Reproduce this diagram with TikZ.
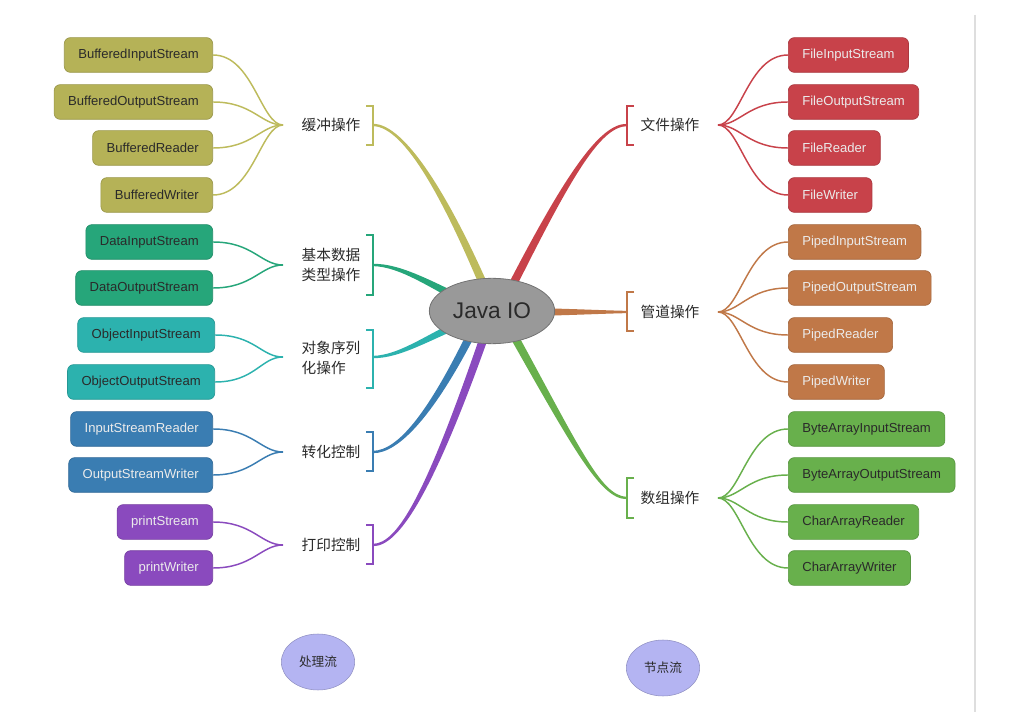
\documentclass[tikz,border=0pt]{standalone}
\usepackage{fontspec}
\setmainfont{Liberation Sans}
\newfontfamily\cjk{Noto Sans CJK SC}
\usetikzlibrary{calc,shapes.geometric}
\pgfdeclarelayer{background}
\pgfsetlayers{background,main}
\definecolor{cOl}{HTML}{B5B257}\definecolor{cOlL}{HTML}{BDBB5C}
\definecolor{cDa}{HTML}{26A67A}
\definecolor{cOb}{HTML}{2CB2AE}
\definecolor{cBl}{HTML}{3A7DB2}
\definecolor{cPu}{HTML}{8A4ABE}
\definecolor{cRe}{HTML}{C8424A}
\definecolor{cOr}{HTML}{C07848}
\definecolor{cGr}{HTML}{68B04C}
\definecolor{cLav}{HTML}{B4B4F2}
\definecolor{cDark}{HTML}{2A2A2A}
\newcommand{\branch}[5]{%
 \fill[#1] ($(#2)!3.2pt!90:(#3)$) .. controls ($(#3)!2.5pt!-90:(#2)$) and ($(#4)!1.3pt!90:(#5)$) .. ($(#5)!0.85pt!-90:(#4)$) -- ($(#5)!0.85pt!90:(#4)$) .. controls ($(#4)!1.3pt!-90:(#5)$) and ($(#3)!2.5pt!90:(#2)$) .. ($(#2)!3.2pt!-90:(#3)$) -- cycle;}
\tikzset{
 x=0.75pt, y=-0.75pt,
 box/.style={rounded corners=4.5pt, minimum height=26pt, inner xsep=10.5pt, inner ysep=0pt, font=\fontsize{9.8}{11}\selectfont, line width=0.5pt},
 lbox/.style={box, anchor=east},
 rbox/.style={box, anchor=west},
 olbox/.style={fill=cOl, draw=cOl!85!black, text=cDark},
 dabox/.style={fill=cDa, draw=cDa!85!black, text=cDark},
 obbox/.style={fill=cOb, draw=cOb!85!black, text=cDark},
 blbox/.style={fill=cBl, draw=cBl!85!black, text=white!92!black},
 pubox/.style={fill=cPu, draw=cPu!85!black, text=white!92!black},
 rebox/.style={fill=cRe, draw=cRe!85!black, text=white!92!black},
 orbox/.style={fill=cOr, draw=cOr!85!black, text=white!92!black},
 grbox/.style={fill=cGr, draw=cGr!85!black, text=cDark},
 cat/.style={font=\cjk\fontsize{11}{15}\selectfont, text=cDark, align=left, inner sep=0pt},
 twig/.style={line width=1.1pt},
 brk/.style={line width=1.1pt},
 flow/.style={ellipse, fill=cLav, draw=cLav!80!black, line width=0.4pt, minimum width=55pt, minimum height=42pt, inner sep=0pt, font=\cjk\fontsize{9.5}{11}\selectfont, text=cDark}
}
\begin{document}
\begin{tikzpicture}
\useasboundingbox (0,0) rectangle (1015,727);
\draw[black!13, line width=0.8pt] (975,15) -- (975,712);
% center
\node[ellipse, fill=black!40, draw=black!55, line width=0.6pt, minimum width=94pt, minimum height=49pt, inner sep=0pt, font=\fontsize{17}{19}\selectfont, text=cDark] (java) at (492,311) {Java IO};
% branch coordinates
\coordinate (a1) at (490,300); \coordinate (c1a) at (448,200); \coordinate (c1b) at (405,125); \coordinate (k1) at (373,125);
\coordinate (a2) at (472,305); \coordinate (c2a) at (430,284); \coordinate (c2b) at (400,265); \coordinate (k2) at (373,265);
\coordinate (a3) at (472,318); \coordinate (c3a) at (430,336); \coordinate (c3b) at (400,357); \coordinate (k3) at (373,357);
\coordinate (a4) at (478,320); \coordinate (c4a) at (432,415); \coordinate (c4b) at (398,452); \coordinate (k4) at (373,452);
\coordinate (a5) at (490,320); \coordinate (c5a) at (430,495); \coordinate (c5b) at (398,545); \coordinate (k5) at (373,545);
\coordinate (a6) at (505,300); \coordinate (c6a) at (568,175); \coordinate (c6b) at (600,125); \coordinate (k6) at (627,125);
\coordinate (a7) at (520,312); \coordinate (c7a) at (570,312); \coordinate (c7b) at (600,312); \coordinate (k7) at (627,312);
\coordinate (a8) at (505,320); \coordinate (c8a) at (575,445); \coordinate (c8b) at (600,498); \coordinate (k8) at (627,498);
\begin{pgfonlayer}{background}
\branch{cOlL}{a1}{c1a}{c1b}{k1}
\branch{cDa}{a2}{c2a}{c2b}{k2}
\branch{cOb}{a3}{c3a}{c3b}{k3}
\branch{cBl}{a4}{c4a}{c4b}{k4}
\branch{cPu}{a5}{c5a}{c5b}{k5}
\branch{cRe}{a6}{c6a}{c6b}{k6}
\branch{cOr}{a7}{c7a}{c7b}{k7}
\branch{cGr}{a8}{c8a}{c8b}{k8}
\end{pgfonlayer}
% brackets
\draw[brk, cOlL] (366,106) -- (373,106) -- (373,145) -- (366,145);
\draw[brk, cDa] (366,235) -- (373,235) -- (373,295) -- (366,295);
\draw[brk, cOb] (366,330) -- (373,330) -- (373,388) -- (366,388);
\draw[brk, cBl] (366,432) -- (373,432) -- (373,471) -- (366,471);
\draw[brk, cPu] (366,525) -- (373,525) -- (373,564) -- (366,564);
\draw[brk, cRe] (634,106) -- (627,106) -- (627,145) -- (634,145);
\draw[brk, cOr] (634,292) -- (627,292) -- (627,331) -- (634,331);
\draw[brk, cGr] (634,478) -- (627,478) -- (627,518) -- (634,518);
% category labels
\node[cat] (l1) at (331,125) {缓冲操作};
\node[cat] (l2) at (331,265) {基本数据\\类型操作};
\node[cat] (l3) at (331,358) {对象序列\\化操作};
\node[cat] (l4) at (331,452) {转化控制};
\node[cat] (l5) at (331,545) {打印控制};
\node[cat] (r1) at (670,125) {文件操作};
\node[cat] (r2) at (670,312) {管道操作};
\node[cat] (r3) at (670,498) {数组操作};
% convergence points
\coordinate (v1) at (283,125); \coordinate (v2) at (283,265); \coordinate (v3) at (283,357);
\coordinate (v4) at (283,452); \coordinate (v5) at (283,545);
\coordinate (w1) at (718,125); \coordinate (w2) at (718,312); \coordinate (w3) at (718,498);
% left boxes
\node[lbox, olbox] (b11) at (213,55) {BufferedInputStream};
\node[lbox, olbox] (b12) at (213,102) {BufferedOutputStream};
\node[lbox, olbox] (b13) at (213,148) {BufferedReader};
\node[lbox, olbox] (b14) at (213,195) {BufferedWriter};
\node[lbox, dabox] (b21) at (213,242) {DataInputStream};
\node[lbox, dabox] (b22) at (213,288) {DataOutputStream};
\node[lbox, obbox] (b31) at (215,335) {ObjectInputStream};
\node[lbox, obbox] (b32) at (215,382) {ObjectOutputStream};
\node[lbox, blbox] (b41) at (213,429) {InputStreamReader};
\node[lbox, blbox] (b42) at (213,475) {OutputStreamWriter};
\node[lbox, pubox] (b51) at (213,522) {printStream};
\node[lbox, pubox] (b52) at (213,568) {printWriter};
% right boxes
\node[rbox, rebox] (r11) at (788,55) {FileInputStream};
\node[rbox, rebox] (r12) at (788,102) {FileOutputStream};
\node[rbox, rebox] (r13) at (788,148) {FileReader};
\node[rbox, rebox] (r14) at (788,195) {FileWriter};
\node[rbox, orbox] (r21) at (788,242) {PipedInputStream};
\node[rbox, orbox] (r22) at (788,288) {PipedOutputStream};
\node[rbox, orbox] (r23) at (788,335) {PipedReader};
\node[rbox, orbox] (r24) at (788,382) {PipedWriter};
\node[rbox, grbox] (r31) at (788,429) {ByteArrayInputStream};
\node[rbox, grbox] (r32) at (788,475) {ByteArrayOutputStream};
\node[rbox, grbox] (r33) at (788,522) {CharArrayReader};
\node[rbox, grbox] (r34) at (788,568) {CharArrayWriter};
% twigs
\foreach \b in {b11,b12,b13,b14} \draw[twig, cOlL] (v1) .. controls +(-22,0) and +(40,0) .. (\b.east);
\foreach \b in {b21,b22} \draw[twig, cDa] (v2) .. controls +(-22,0) and +(40,0) .. (\b.east);
\foreach \b in {b31,b32} \draw[twig, cOb] (v3) .. controls +(-22,0) and +(40,0) .. (\b.east);
\foreach \b in {b41,b42} \draw[twig, cBl] (v4) .. controls +(-22,0) and +(40,0) .. (\b.east);
\foreach \b in {b51,b52} \draw[twig, cPu] (v5) .. controls +(-22,0) and +(40,0) .. (\b.east);
\foreach \b in {r11,r12,r13,r14} \draw[twig, cRe] (w1) .. controls +(22,0) and +(-40,0) .. (\b.west);
\foreach \b in {r21,r22,r23,r24} \draw[twig, cOr] (w2) .. controls +(22,0) and +(-40,0) .. (\b.west);
\foreach \b in {r31,r32,r33,r34} \draw[twig, cGr] (w3) .. controls +(22,0) and +(-40,0) .. (\b.west);
% bottom ellipses
\node[flow] (p1) at (318,662) {处理流};
\node[flow] (p2) at (663,668) {节点流};
\end{tikzpicture}
\end{document}
